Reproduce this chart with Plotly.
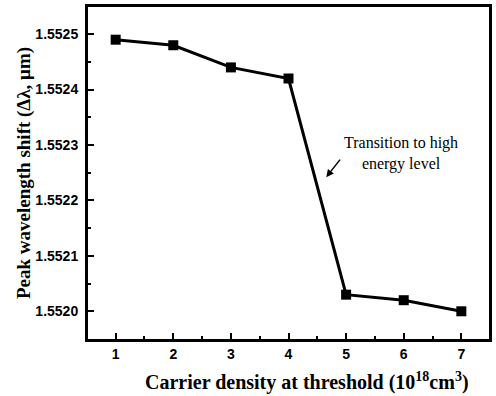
import plotly.graph_objects as go

carrier_density = [1, 2, 3, 4, 5, 6, 7]
peak_shift = [1.55249, 1.55248, 1.55244, 1.55242, 1.55203, 1.55202, 1.55200]
y_ticks = [1.5520, 1.5521, 1.5522, 1.5523, 1.5524, 1.5525]
y_tick_labels = ["1.5520", "1.5521", "1.5522", "1.5523", "1.5524", "1.5525"]

fig = go.Figure()
fig.add_trace(go.Scatter(
    x=carrier_density, y=peak_shift, mode="lines+markers",
    line=dict(color="black", width=3),
    marker=dict(symbol="square", size=10, color="black"),
    showlegend=False,
))

tickfont = dict(family="Liberation Sans, Arial", size=14, color="black", weight="bold")
titlefont = dict(family="Liberation Serif, Times New Roman", size=19, color="black", weight="bold")

fig.update_xaxes(
    range=[0.52, 7.48], tickvals=carrier_density, ticks="inside", ticklen=6, tickwidth=2,
    tickcolor="black", tickfont=tickfont, showgrid=False, zeroline=False,
    showline=True, linecolor="black", linewidth=3, mirror=True,
    minor=dict(ticks="inside", dtick=0.5, tick0=0, ticklen=3, tickwidth=2, tickcolor="black", showgrid=False),
)
fig.update_yaxes(
    range=[1.551950, 1.552549], tickvals=y_ticks, ticktext=y_tick_labels, ticks="inside", ticklen=6,
    tickwidth=2, tickcolor="black", tickfont=tickfont, showgrid=False, zeroline=False,
    showline=True, linecolor="black", linewidth=3, mirror=True, ticklabelstandoff=4,
    minor=dict(ticks="inside", dtick=0.00005, tick0=1.552, ticklen=3, tickwidth=2, tickcolor="black", showgrid=False),
    title=dict(text="Peak wavelength shift (Δλ, μm)", font=titlefont, standoff=0),
)

fig.add_annotation(
    x=0.545, y=-0.127, xref="paper", yref="paper", yanchor="middle", xanchor="center",
    text="Carrier density at threshold (10<sup>18</sup>cm<sup>3</sup>)", showarrow=False,
    font=dict(family="Liberation Serif, Times New Roman", size=20, color="black", weight="bold"),
)
fig.add_annotation(
    x=4.655, y=1.552242, xref="x", yref="y", text="", showarrow=True,
    ax=15, ay=-19, arrowhead=2, arrowsize=1, arrowwidth=1.5, arrowcolor="black",
)
fig.add_annotation(
    x=5.95, y=1.552285, xref="x", yref="y",
    text="Transition to high<br>energy level", showarrow=False,
    font=dict(family="Liberation Serif, Times New Roman", size=16, color="black"),
    align="center",
)

fig.update_layout(
    width=496, height=396, margin=dict(l=88, r=4, t=7, b=57),
    paper_bgcolor="white", plot_bgcolor="white",
)
fig.write_html("out.html", config={"displayModeBar": False},
               post_script="document.body.style.margin='0';")
